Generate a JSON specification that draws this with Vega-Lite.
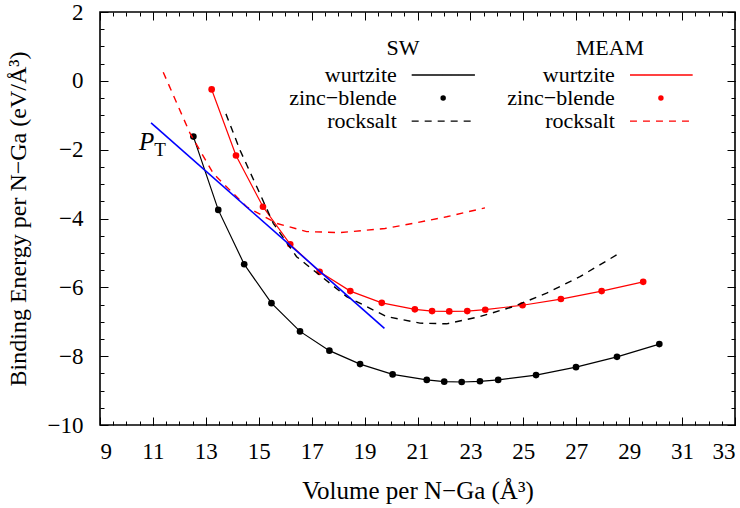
{
  "$schema": "https://vega.github.io/schema/vega-lite/v6.json",
  "width": 635,
  "height": 413,
  "autosize": {"type": "none"},
  "padding": {"left": 100, "top": 12, "right": 5, "bottom": 83},
  "config": {
    "view": {"stroke": "black", "strokeWidth": 1.6},
    "font": "Liberation Serif",
    "axis": {
      "domain": false, "grid": false,
      "tickColor": "black", "tickWidth": 1,
      "labelColor": "black", "titleColor": "black",
      "labelFont": "Liberation Serif", "titleFont": "Liberation Serif",
      "labelFontSize": 23, "titleFontSize": 24, "titleFontWeight": "normal"
    }
  },
  "datasets": {
    "curves": [
      {"pot": "SW", "phase": "wurtzite", "x": 12.53, "y": -1.62},
      {"pot": "SW", "phase": "wurtzite", "x": 13.47, "y": -3.75},
      {"pot": "SW", "phase": "wurtzite", "x": 14.45, "y": -5.33},
      {"pot": "SW", "phase": "wurtzite", "x": 15.48, "y": -6.46},
      {"pot": "SW", "phase": "wurtzite", "x": 16.56, "y": -7.28},
      {"pot": "SW", "phase": "wurtzite", "x": 17.67, "y": -7.84},
      {"pot": "SW", "phase": "wurtzite", "x": 18.83, "y": -8.23},
      {"pot": "SW", "phase": "wurtzite", "x": 20.06, "y": -8.53},
      {"pot": "SW", "phase": "wurtzite", "x": 21.35, "y": -8.69},
      {"pot": "SW", "phase": "wurtzite", "x": 22.01, "y": -8.74},
      {"pot": "SW", "phase": "wurtzite", "x": 22.67, "y": -8.75},
      {"pot": "SW", "phase": "wurtzite", "x": 23.36, "y": -8.73},
      {"pot": "SW", "phase": "wurtzite", "x": 24.05, "y": -8.69},
      {"pot": "SW", "phase": "wurtzite", "x": 25.48, "y": -8.55},
      {"pot": "SW", "phase": "wurtzite", "x": 26.99, "y": -8.32},
      {"pot": "SW", "phase": "wurtzite", "x": 28.54, "y": -8.02},
      {"pot": "SW", "phase": "wurtzite", "x": 30.14, "y": -7.65},
      {"pot": "SW", "phase": "zinc-blende", "x": 12.53, "y": -1.62},
      {"pot": "SW", "phase": "zinc-blende", "x": 13.47, "y": -3.75},
      {"pot": "SW", "phase": "zinc-blende", "x": 14.45, "y": -5.33},
      {"pot": "SW", "phase": "zinc-blende", "x": 15.48, "y": -6.46},
      {"pot": "SW", "phase": "zinc-blende", "x": 16.56, "y": -7.28},
      {"pot": "SW", "phase": "zinc-blende", "x": 17.67, "y": -7.84},
      {"pot": "SW", "phase": "zinc-blende", "x": 18.83, "y": -8.23},
      {"pot": "SW", "phase": "zinc-blende", "x": 20.06, "y": -8.53},
      {"pot": "SW", "phase": "zinc-blende", "x": 21.35, "y": -8.69},
      {"pot": "SW", "phase": "zinc-blende", "x": 22.01, "y": -8.74},
      {"pot": "SW", "phase": "zinc-blende", "x": 22.67, "y": -8.75},
      {"pot": "SW", "phase": "zinc-blende", "x": 23.36, "y": -8.73},
      {"pot": "SW", "phase": "zinc-blende", "x": 24.05, "y": -8.69},
      {"pot": "SW", "phase": "zinc-blende", "x": 25.48, "y": -8.55},
      {"pot": "SW", "phase": "zinc-blende", "x": 26.99, "y": -8.32},
      {"pot": "SW", "phase": "zinc-blende", "x": 28.54, "y": -8.02},
      {"pot": "SW", "phase": "zinc-blende", "x": 30.14, "y": -7.65},
      {"pot": "SW", "phase": "rocksalt", "x": 13.76, "y": -0.96},
      {"pot": "SW", "phase": "rocksalt", "x": 14.29, "y": -2.01},
      {"pot": "SW", "phase": "rocksalt", "x": 14.92, "y": -3.07},
      {"pot": "SW", "phase": "rocksalt", "x": 15.55, "y": -4.14},
      {"pot": "SW", "phase": "rocksalt", "x": 16.43, "y": -5.11},
      {"pot": "SW", "phase": "rocksalt", "x": 17.31, "y": -5.65},
      {"pot": "SW", "phase": "rocksalt", "x": 18.32, "y": -6.27},
      {"pot": "SW", "phase": "rocksalt", "x": 19.83, "y": -6.85},
      {"pot": "SW", "phase": "rocksalt", "x": 21.09, "y": -7.04},
      {"pot": "SW", "phase": "rocksalt", "x": 22.1, "y": -7.06},
      {"pot": "SW", "phase": "rocksalt", "x": 23.36, "y": -6.85},
      {"pot": "SW", "phase": "rocksalt", "x": 24.62, "y": -6.56},
      {"pot": "SW", "phase": "rocksalt", "x": 25.88, "y": -6.17},
      {"pot": "SW", "phase": "rocksalt", "x": 27.14, "y": -5.69},
      {"pot": "SW", "phase": "rocksalt", "x": 28.65, "y": -5.0},
      {"pot": "MEAM", "phase": "wurtzite", "x": 13.22, "y": -0.25},
      {"pot": "MEAM", "phase": "wurtzite", "x": 14.14, "y": -2.17},
      {"pot": "MEAM", "phase": "wurtzite", "x": 15.16, "y": -3.66},
      {"pot": "MEAM", "phase": "wurtzite", "x": 16.19, "y": -4.75},
      {"pot": "MEAM", "phase": "wurtzite", "x": 17.3, "y": -5.55},
      {"pot": "MEAM", "phase": "wurtzite", "x": 18.46, "y": -6.11},
      {"pot": "MEAM", "phase": "wurtzite", "x": 19.65, "y": -6.45},
      {"pot": "MEAM", "phase": "wurtzite", "x": 20.9, "y": -6.64},
      {"pot": "MEAM", "phase": "wurtzite", "x": 21.55, "y": -6.69},
      {"pot": "MEAM", "phase": "wurtzite", "x": 22.2, "y": -6.7},
      {"pot": "MEAM", "phase": "wurtzite", "x": 22.88, "y": -6.69},
      {"pot": "MEAM", "phase": "wurtzite", "x": 23.56, "y": -6.65},
      {"pot": "MEAM", "phase": "wurtzite", "x": 24.97, "y": -6.52},
      {"pot": "MEAM", "phase": "wurtzite", "x": 26.42, "y": -6.34},
      {"pot": "MEAM", "phase": "wurtzite", "x": 27.96, "y": -6.11},
      {"pot": "MEAM", "phase": "wurtzite", "x": 29.53, "y": -5.84},
      {"pot": "MEAM", "phase": "zinc-blende", "x": 13.22, "y": -0.25},
      {"pot": "MEAM", "phase": "zinc-blende", "x": 14.14, "y": -2.17},
      {"pot": "MEAM", "phase": "zinc-blende", "x": 15.16, "y": -3.66},
      {"pot": "MEAM", "phase": "zinc-blende", "x": 16.19, "y": -4.75},
      {"pot": "MEAM", "phase": "zinc-blende", "x": 17.3, "y": -5.55},
      {"pot": "MEAM", "phase": "zinc-blende", "x": 18.46, "y": -6.11},
      {"pot": "MEAM", "phase": "zinc-blende", "x": 19.65, "y": -6.45},
      {"pot": "MEAM", "phase": "zinc-blende", "x": 20.9, "y": -6.64},
      {"pot": "MEAM", "phase": "zinc-blende", "x": 21.55, "y": -6.69},
      {"pot": "MEAM", "phase": "zinc-blende", "x": 22.2, "y": -6.7},
      {"pot": "MEAM", "phase": "zinc-blende", "x": 22.88, "y": -6.69},
      {"pot": "MEAM", "phase": "zinc-blende", "x": 23.56, "y": -6.65},
      {"pot": "MEAM", "phase": "zinc-blende", "x": 24.97, "y": -6.52},
      {"pot": "MEAM", "phase": "zinc-blende", "x": 26.42, "y": -6.34},
      {"pot": "MEAM", "phase": "zinc-blende", "x": 27.96, "y": -6.11},
      {"pot": "MEAM", "phase": "zinc-blende", "x": 29.53, "y": -5.84},
      {"pot": "MEAM", "phase": "rocksalt", "x": 11.39, "y": 0.25},
      {"pot": "MEAM", "phase": "rocksalt", "x": 12.4, "y": -1.52},
      {"pot": "MEAM", "phase": "rocksalt", "x": 13.28, "y": -2.69},
      {"pot": "MEAM", "phase": "rocksalt", "x": 14.54, "y": -3.66},
      {"pot": "MEAM", "phase": "rocksalt", "x": 15.67, "y": -4.14},
      {"pot": "MEAM", "phase": "rocksalt", "x": 16.81, "y": -4.38},
      {"pot": "MEAM", "phase": "rocksalt", "x": 18.07, "y": -4.41},
      {"pot": "MEAM", "phase": "rocksalt", "x": 19.77, "y": -4.29},
      {"pot": "MEAM", "phase": "rocksalt", "x": 20.84, "y": -4.14},
      {"pot": "MEAM", "phase": "rocksalt", "x": 22.1, "y": -3.95},
      {"pot": "MEAM", "phase": "rocksalt", "x": 23.55, "y": -3.69}
    ],
    "tangent": [
      {"x": 10.93, "y": -1.22},
      {"x": 19.75, "y": -7.19}
    ],
    "ptLabel": [
      {"text": "P", "x": 10.76, "y": -1.77}
    ],
    "ptSub": [
      {"text": "T", "x": 11.27, "y": -2.0}
    ],
    "keyTitles": [
      {"text": "SW", "x": 20.45, "y": 0.95},
      {"text": "MEAM", "x": 28.27, "y": 0.95}
    ],
    "keyLabels": [
      {"text": "wurtzite", "x": 20.22, "y": 0.17},
      {"text": "zinc−blende", "x": 20.22, "y": -0.5},
      {"text": "rocksalt", "x": 20.22, "y": -1.17},
      {"text": "wurtzite", "x": 28.46, "y": 0.17},
      {"text": "zinc−blende", "x": 28.46, "y": -0.5},
      {"text": "rocksalt", "x": 28.46, "y": -1.17}
    ],
    "keyLines": [
      {"pot": "SW", "phase": "wurtzite", "x": 20.78, "x2": 23.17, "y": 0.17},
      {"pot": "SW", "phase": "rocksalt", "x": 20.78, "x2": 23.17, "y": -1.17},
      {"pot": "MEAM", "phase": "wurtzite", "x": 29.03, "x2": 31.4, "y": 0.17},
      {"pot": "MEAM", "phase": "rocksalt", "x": 29.03, "x2": 31.4, "y": -1.17}
    ],
    "keyDots": [
      {"pot": "SW", "x": 21.97, "y": -0.5},
      {"pot": "MEAM", "x": 30.2, "y": -0.5}
    ]
  },
  "layer": [
    {
      "data": {"name": "curves"},
      "transform": [{"filter": "datum.phase === 'wurtzite'"}],
      "mark": {"type": "line", "strokeWidth": 1.2},
      "encoding": {
        "x": {"field": "x", "type": "quantitative",
              "scale": {"domain": [9, 33], "nice": false, "zero": false},
              "axis": {"orient": "bottom", "values": [9, 11, 13, 15, 17, 19, 21, 23, 25, 27, 29, 31, 33],
                       "tickSize": -8, "labelPadding": 23, "title": "Volume per N−Ga (Å³)", "titlePadding": 15, "titleFontSize": 25}},
        "y": {"field": "y", "type": "quantitative",
              "scale": {"domain": [-10, 2], "nice": false, "zero": false},
              "axis": {"orient": "left", "values": [-10, -8, -6, -4, -2, 0, 2],
                       "tickSize": -8, "labelPadding": 25, "title": "Binding Energy per N−Ga (eV/Å³)", "titlePadding": 17}},
        "color": {"field": "pot", "type": "nominal", "scale": {"domain": ["SW", "MEAM"], "range": ["black", "#ff0000"]}, "legend": null}
      }
    },
    {
      "data": {"name": "curves"},
      "transform": [{"filter": "datum.phase === 'zinc-blende'"}],
      "mark": {"type": "circle", "size": 44, "opacity": 1},
      "encoding": {
        "x": {"field": "x", "type": "quantitative",
              "axis": {"orient": "bottom", "values": [9, 9.5, 10, 10.5, 11, 11.5, 12, 12.5, 13, 13.5, 14, 14.5, 15, 15.5, 16, 16.5, 17, 17.5, 18, 18.5, 19, 19.5, 20, 20.5, 21, 21.5, 22, 22.5, 23, 23.5, 24, 24.5, 25, 25.5, 26, 26.5, 27, 27.5, 28, 28.5, 29, 29.5, 30, 30.5, 31, 31.5, 32, 32.5, 33],
                       "tickSize": -4, "labels": false, "title": null}},
        "y": {"field": "y", "type": "quantitative",
              "axis": {"orient": "left", "values": [-10, -9.5, -9, -8.5, -8, -7.5, -7, -6.5, -6, -5.5, -5, -4.5, -4, -3.5, -3, -2.5, -2, -1.5, -1, -0.5, 0, 0.5, 1, 1.5, 2],
                       "tickSize": -4, "labels": false, "title": null}},
        "color": {"field": "pot", "type": "nominal", "legend": null}
      }
    },
    {
      "data": {"name": "curves"},
      "transform": [{"filter": "datum.phase === 'rocksalt'"}],
      "mark": {"type": "line", "strokeWidth": 1.4, "strokeDash": [7, 6]},
      "encoding": {
        "x": {"field": "x", "type": "quantitative",
              "axis": {"orient": "top", "values": [9, 11, 13, 15, 17, 19, 21, 23, 25, 27, 29, 31, 33],
                       "tickSize": -8, "labels": false, "title": null}},
        "y": {"field": "y", "type": "quantitative",
              "axis": {"orient": "right", "values": [-10, -8, -6, -4, -2, 0, 2],
                       "tickSize": -8, "labels": false, "title": null}},
        "color": {"field": "pot", "type": "nominal", "legend": null}
      }
    },
    {
      "data": {"name": "tangent"},
      "mark": {"type": "line", "color": "#0000ff", "strokeWidth": 1.6},
      "encoding": {
        "x": {"field": "x", "type": "quantitative",
              "axis": {"orient": "top", "values": [9, 9.5, 10, 10.5, 11, 11.5, 12, 12.5, 13, 13.5, 14, 14.5, 15, 15.5, 16, 16.5, 17, 17.5, 18, 18.5, 19, 19.5, 20, 20.5, 21, 21.5, 22, 22.5, 23, 23.5, 24, 24.5, 25, 25.5, 26, 26.5, 27, 27.5, 28, 28.5, 29, 29.5, 30, 30.5, 31, 31.5, 32, 32.5, 33],
                       "tickSize": -4, "labels": false, "title": null}},
        "y": {"field": "y", "type": "quantitative",
              "axis": {"orient": "right", "values": [-10, -9.5, -9, -8.5, -8, -7.5, -7, -6.5, -6, -5.5, -5, -4.5, -4, -3.5, -3, -2.5, -2, -1.5, -1, -0.5, 0, 0.5, 1, 1.5, 2],
                       "tickSize": -4, "labels": false, "title": null}}
      }
    },
    {
      "data": {"name": "ptLabel"},
      "mark": {"type": "text", "font": "Liberation Serif", "fontSize": 25, "fontStyle": "italic", "color": "black", "baseline": "middle", "align": "center"},
      "encoding": {
        "x": {"field": "x", "type": "quantitative", "axis": null},
        "y": {"field": "y", "type": "quantitative", "axis": null},
        "text": {"field": "text"}
      }
    },
    {
      "data": {"name": "ptSub"},
      "mark": {"type": "text", "font": "Liberation Serif", "fontSize": 19, "color": "black", "baseline": "middle", "align": "center"},
      "encoding": {
        "x": {"field": "x", "type": "quantitative", "axis": null},
        "y": {"field": "y", "type": "quantitative", "axis": null},
        "text": {"field": "text"}
      }
    },
    {
      "data": {"name": "keyTitles"},
      "mark": {"type": "text", "font": "Liberation Serif", "fontSize": 22, "color": "black", "baseline": "middle", "align": "center"},
      "encoding": {
        "x": {"field": "x", "type": "quantitative", "axis": null},
        "y": {"field": "y", "type": "quantitative", "axis": null},
        "text": {"field": "text"}
      }
    },
    {
      "data": {"name": "keyLabels"},
      "mark": {"type": "text", "font": "Liberation Serif", "fontSize": 22, "color": "black", "baseline": "middle", "align": "right"},
      "encoding": {
        "x": {"field": "x", "type": "quantitative", "axis": null},
        "y": {"field": "y", "type": "quantitative", "axis": null},
        "text": {"field": "text"}
      }
    },
    {
      "data": {"name": "keyLines"},
      "mark": {"type": "rule", "strokeWidth": 1.3},
      "encoding": {
        "x": {"field": "x", "type": "quantitative", "axis": null},
        "x2": {"field": "x2"},
        "y": {"field": "y", "type": "quantitative", "axis": null},
        "color": {"field": "pot", "type": "nominal", "legend": null},
        "strokeDash": {"field": "phase", "type": "nominal", "scale": {"domain": ["wurtzite", "rocksalt"], "range": [[1, 0], [7, 6]]}, "legend": null}
      }
    },
    {
      "data": {"name": "keyDots"},
      "mark": {"type": "circle", "size": 30, "opacity": 1},
      "encoding": {
        "x": {"field": "x", "type": "quantitative", "axis": null},
        "y": {"field": "y", "type": "quantitative", "axis": null},
        "color": {"field": "pot", "type": "nominal", "legend": null}
      }
    }
  ],
  "resolve": {"axis": {"x": "independent", "y": "independent"}}
}
